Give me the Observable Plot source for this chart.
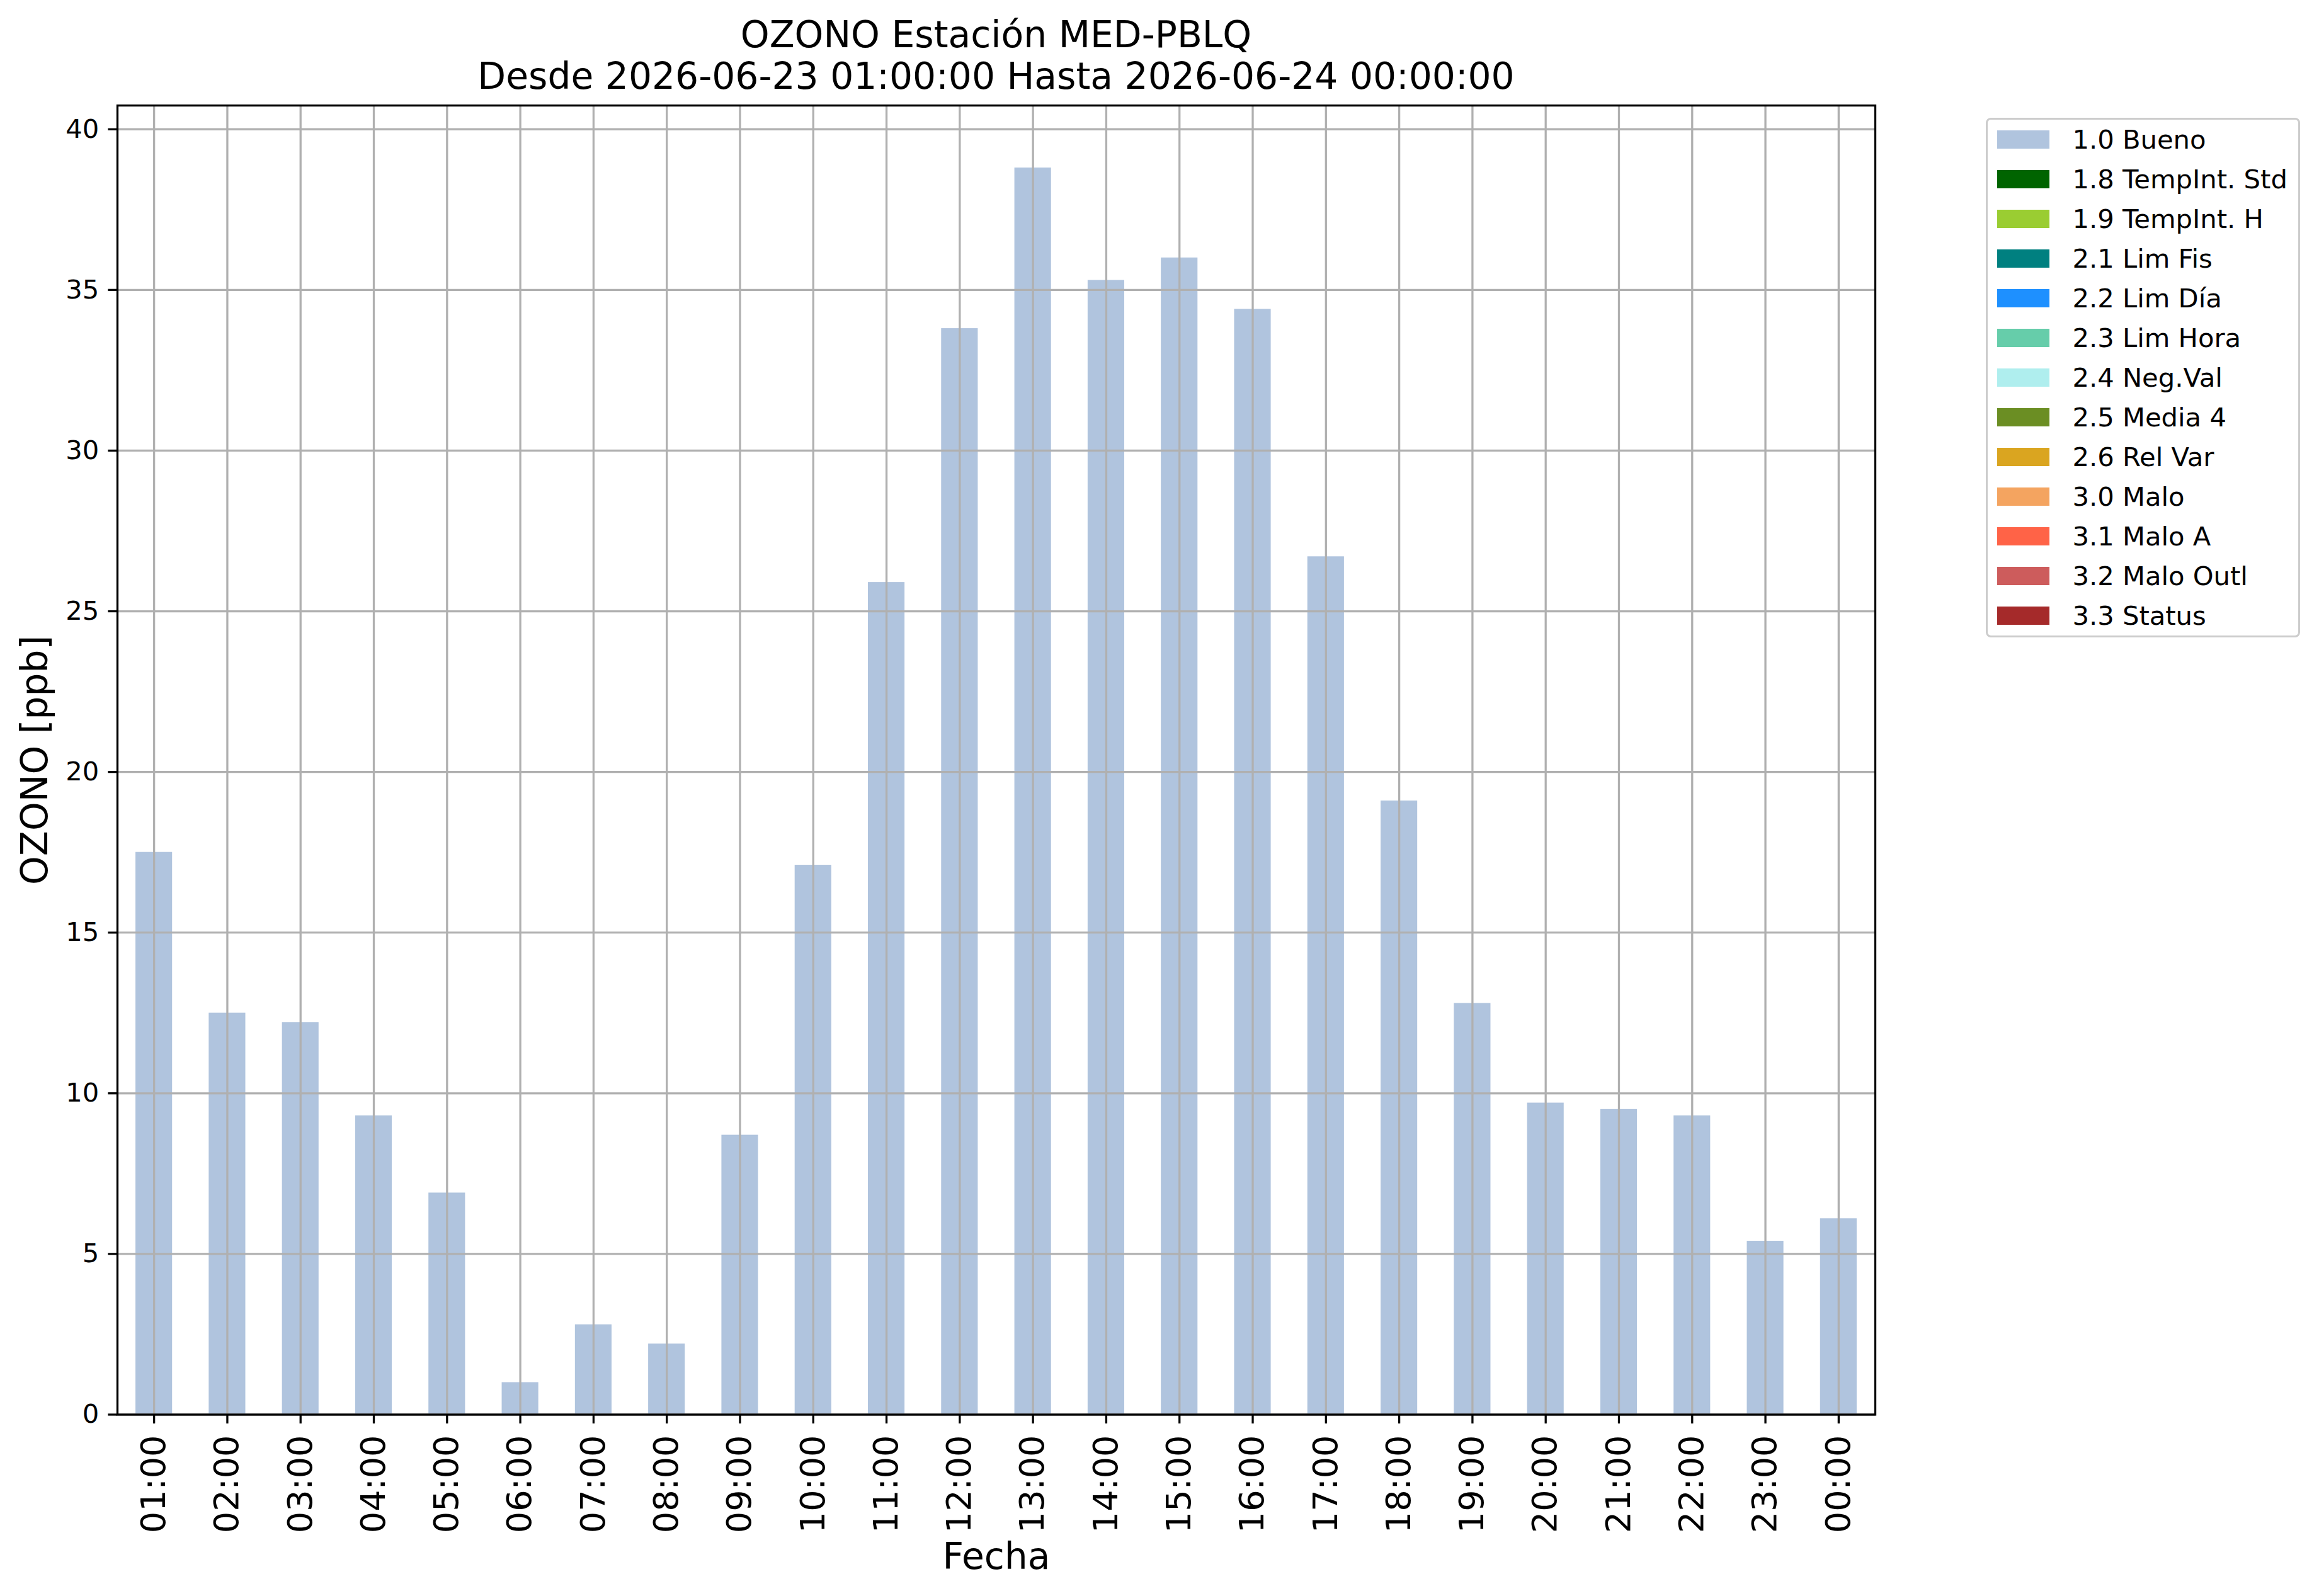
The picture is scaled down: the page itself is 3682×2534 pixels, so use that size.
<!DOCTYPE html>
<html>
<head>
<meta charset="utf-8">
<script src="https://cdn.jsdelivr.net/npm/d3@7"></script>
<script src="https://cdn.jsdelivr.net/npm/@observablehq/plot@0.6"></script>
<style>
html, body { margin: 0; padding: 0; background: #fff; }
#fig { position: relative; width: 3682px; height: 2534px; background: #fff; color: #000;
       font-family: "DejaVu Sans", sans-serif; overflow: hidden; }
#title { height: 150px; box-sizing: border-box; padding-top: 22px; width: 3163px;
         text-align: center; font-size: 58.3px; line-height: 66px; white-space: nowrap; }
#fig svg { display: block; }
#legend { position: absolute; left: 3153px; top: 187px; width: 499px; box-sizing: border-box;
          border: 3.3px solid #cccccc; border-radius: 8px; background: #fff; padding: 0 0 0 14.7px; }
.row { height: 63px; display: flex; align-items: center; }
.sw { width: 83px; height: 29px; flex: none; margin-right: 36.7px; }
.lab { font-size: 41.7px; line-height: 1; white-space: nowrap; }
g[aria-label="x-axis label"] { font-size: 58.3px; }
g[aria-label="y-axis label"] { font-size: 58.3px; }
</style>
</head>
<body>
<div id="fig">
  <div id="title"></div>
</div>
<script>
// ---- data ----
const titulo = ["OZONO Estación MED-PBLQ", "Desde 2026-06-23 01:00:00 Hasta 2026-06-24 00:00:00"];
const horas = ["01:00","02:00","03:00","04:00","05:00","06:00","07:00","08:00","09:00","10:00","11:00","12:00",
               "13:00","14:00","15:00","16:00","17:00","18:00","19:00","20:00","21:00","22:00","23:00","00:00"];
const ozono = [17.5,12.5,12.2,9.3,6.9,1.0,2.8,2.2,8.7,17.1,25.9,33.8,
               38.8,35.3,36.0,34.4,26.7,19.1,12.8,9.7,9.5,9.3,5.4,6.1];
const banderas = horas.map(() => "1.0 Bueno");
const flagLabels = ["1.0 Bueno","1.8 TempInt. Std","1.9 TempInt. H","2.1 Lim Fis","2.2 Lim Día","2.3 Lim Hora",
                    "2.4 Neg.Val","2.5 Media 4","2.6 Rel Var","3.0 Malo","3.1 Malo A","3.2 Malo Outl","3.3 Status"];
const flagColors = ["#b0c4de","#006400","#9acd32","#008080","#1e90ff","#66cdaa",
                    "#afeeee","#6b8e23","#daa520","#f4a460","#ff6347","#cd5c5c","#a52a2a"];
const yTicks = [0,5,10,15,20,25,30,35,40];
const xLabel = "Fecha";
const yLabel = "OZONO [ppb]";

const data = horas.map((h, i) => ({hora: h, valor: ozono[i], flag: banderas[i]}));

// ---- title ----
const t = document.getElementById("title");
titulo.forEach(s => { const d = document.createElement("div"); d.textContent = s; t.appendChild(d); });

// ---- chart ----
const lw = 3.3;
const chart = Plot.plot({
  width: 3682,
  height: 2384,
  marginLeft: 186,
  marginRight: 705,
  marginTop: 17,
  marginBottom: 288.5,
  style: {fontFamily: "DejaVu Sans", background: "white", color: "black", overflow: "visible"},
  x: {type: "band", domain: horas, paddingInner: 0.5, paddingOuter: 0.25, round: false},
  y: {domain: [0, d3.max(ozono) * 1.05], labelArrow: "none"},
  color: {domain: flagLabels, range: flagColors},
  marks: [
    Plot.barY(data, {x: "hora", y: "valor", fill: "flag"}),
    Plot.gridY({ticks: yTicks, stroke: "#b0b0b0", strokeOpacity: 1, strokeWidth: lw}),
    Plot.gridX({stroke: "#b0b0b0", strokeOpacity: 1, strokeWidth: lw}),
    Plot.axisY({ticks: yTicks, tickSize: 14.6, tickPadding: 14.7, fontSize: 41.7, strokeWidth: lw,
                label: yLabel, labelArrow: "none", labelAnchor: "center", labelOffset: 153,
                tickFormat: d => String(d)}),
    Plot.axisX({tickSize: 14.6, tickPadding: 18, tickRotate: -90, fontSize: 54, strokeWidth: lw,
                label: xLabel, labelArrow: "none", labelAnchor: "center", labelOffset: 245}),
    Plot.frame({stroke: "black", strokeWidth: lw})
  ]
});
document.getElementById("fig").appendChild(chart);

// ---- legend ----
const lg = document.createElement("div");
lg.id = "legend";
flagLabels.forEach((name, i) => {
  const r = document.createElement("div"); r.className = "row";
  const sw = document.createElement("div"); sw.className = "sw"; sw.style.background = flagColors[i];
  const lb = document.createElement("span"); lb.className = "lab"; lb.textContent = name;
  r.appendChild(sw); r.appendChild(lb); lg.appendChild(r);
});
document.getElementById("fig").appendChild(lg);
</script>
</body>
</html>
